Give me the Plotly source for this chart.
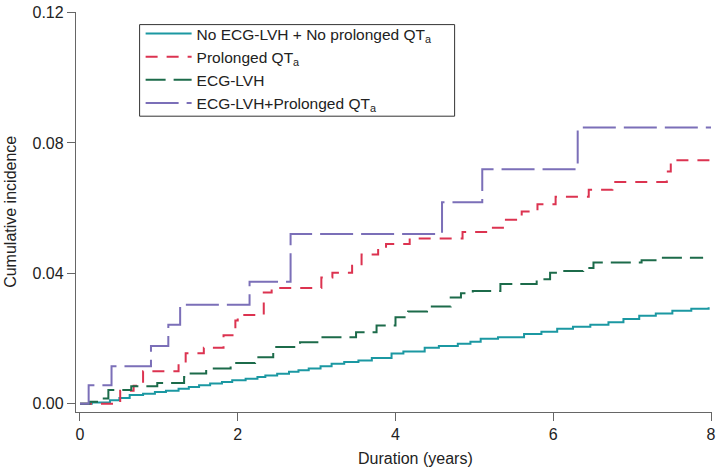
import plotly.graph_objects as go

# ---- data ----
none_t = [0, 0.15, 0.38, 0.50, 0.63, 0.80, 0.95, 1.09, 1.25, 1.38, 1.51, 1.65, 1.80, 1.93,
          2.10, 2.25, 2.35, 2.50, 2.65, 2.77, 2.90, 3.05, 3.19, 3.35, 3.53, 3.70, 3.95,
          4.10, 4.37, 4.55, 4.79, 4.95, 5.08, 5.30, 5.63, 5.85, 6.05, 6.25, 6.47, 6.70,
          6.89, 7.09, 7.30, 7.51, 7.75, 7.97]
none_y = [0, 0.0004, 0.0011, 0.0018, 0.0027, 0.0031, 0.0036, 0.0040, 0.0046, 0.0051, 0.0057,
          0.0062, 0.0067, 0.0072, 0.0077, 0.0082, 0.0087, 0.0092, 0.0098, 0.0103, 0.0108,
          0.0115, 0.0123, 0.0128, 0.0133, 0.0140, 0.0154, 0.0160, 0.0172, 0.0177, 0.0184,
          0.0190, 0.0199, 0.0204, 0.0214, 0.0221, 0.0230, 0.0236, 0.0242, 0.0250, 0.0260,
          0.0270, 0.0277, 0.0285, 0.0291, 0.0296]

qt_t = [0, 0.51, 0.68, 0.80, 1.25, 1.34, 1.57, 1.82, 1.97, 2.00, 2.33, 2.43, 3.06, 3.20,
        3.45, 3.57, 3.78, 3.88, 4.18, 4.85, 5.20, 5.40, 5.60, 5.80, 6.03, 6.45, 6.75,
        7.44, 7.49, 8.00]
qt_y = [0, 0.0040, 0.0055, 0.0100, 0.0125, 0.0155, 0.0172, 0.0210, 0.0255, 0.0272, 0.0341,
        0.0355, 0.0387, 0.0402, 0.0423, 0.0458, 0.0478, 0.0490, 0.0507, 0.0527, 0.0540,
        0.0564, 0.0590, 0.0612, 0.0635, 0.0656, 0.0680, 0.0712, 0.0747, 0.0747]

lvh_t = [0, 0.12, 0.25, 0.36, 0.65, 0.98, 1.32, 1.36, 1.60, 1.91, 2.22, 2.45, 2.79, 3.06,
         3.50, 3.76, 4.00, 4.16, 4.40, 4.70, 4.83, 4.98, 5.33, 5.79, 5.96, 6.05, 6.38,
         6.51, 7.12, 7.39, 7.90]
lvh_y = [0, 0.0006, 0.0016, 0.0042, 0.0054, 0.0064, 0.0082, 0.0093, 0.0108, 0.0125, 0.0143,
         0.0174, 0.0189, 0.0204, 0.0219, 0.0240, 0.0265, 0.0283, 0.0298, 0.0326, 0.0339,
         0.0346, 0.0367, 0.0382, 0.0402, 0.0407, 0.0416, 0.0433, 0.0440, 0.0448, 0.0448]

both_t = [0, 0.11, 0.40, 0.90, 1.12, 1.27, 2.15, 2.67, 4.59, 5.10, 6.31, 8.00]
both_y = [0, 0.0057, 0.0115, 0.0177, 0.0242, 0.0304, 0.0374, 0.0521, 0.0618, 0.0719,
          0.0847, 0.0847]

names = ["No ECG-LVH + No prolonged QT<sub>a</sub>", "Prolonged QT<sub>a</sub>",
         "ECG-LVH", "ECG-LVH+Prolonged QT<sub>a</sub>"]
colors = ["#1b98a2", "#dc3350", "#1c6b4a", "#7b6fb8"]
dashes = ["solid", "12px,9px", "20px,8px", "33px,8px"]

x_ticks = [0, 2, 4, 6, 8]
y_ticks = [0.00, 0.04, 0.08, 0.12]

FONT = "Liberation Sans, Arial, Helvetica, sans-serif"

fig = go.Figure()
for t, y, n, c, d in zip([none_t, qt_t, lvh_t, both_t], [none_y, qt_y, lvh_y, both_y],
                         names, colors, dashes):
    fig.add_trace(go.Scatter(x=t, y=y, name=n, mode="lines", line_shape="hv",
                             line=dict(color=c, width=2, dash=d)))

axis_common = dict(showline=True, linecolor="#666666", linewidth=1.3, ticks="outside",
                   ticklen=8, tickwidth=1.3, tickcolor="#666666", showgrid=False,
                   zeroline=False, tickfont=dict(family=FONT, size=16, color="#222222"))

fig.update_layout(
    width=720, height=468,
    margin=dict(l=76, r=4, t=9, b=56),
    paper_bgcolor="white", plot_bgcolor="white",
    font=dict(family=FONT, size=16, color="#222222"),
    xaxis=dict(range=[-0.0504, 8.0126], tickvals=x_ticks, ticktext=[str(v) for v in x_ticks],
               **axis_common),
    yaxis=dict(range=[-0.00253, 0.12015], tickvals=y_ticks,
               ticktext=[f"{v:.2f}" for v in y_ticks], **axis_common),
    legend=dict(x=0.1016, y=0.9876, xanchor="left", yanchor="top",
                bgcolor="rgba(0,0,0,0)", borderwidth=0,
                font=dict(family=FONT, size=15.5, color="#222222"),
                itemwidth=46, tracegroupgap=0),
    showlegend=True,
    shapes=[dict(type="rect", xref="paper", yref="paper", x0=0.1, x1=0.5953,
                 y0=0.7395, y1=0.9685, line=dict(color="#333333", width=1),
                 fillcolor="white", layer="below")],
    annotations=[
        dict(text="Duration (years)", xref="paper", yref="paper", x=0.534, y=-0.115,
             xanchor="center", yanchor="middle", showarrow=False,
             font=dict(family=FONT, size=16, color="#222222")),
        dict(text="Cumulative incidence", xref="paper", yref="paper", x=-0.104, y=0.5,
             xanchor="center", yanchor="middle", textangle=-90, showarrow=False,
             font=dict(family=FONT, size=16, color="#222222")),
    ],
)

fig.write_html("out.html", config={"displayModeBar": False},
               post_script="document.body.style.margin='0';document.body.style.overflow='hidden';")
